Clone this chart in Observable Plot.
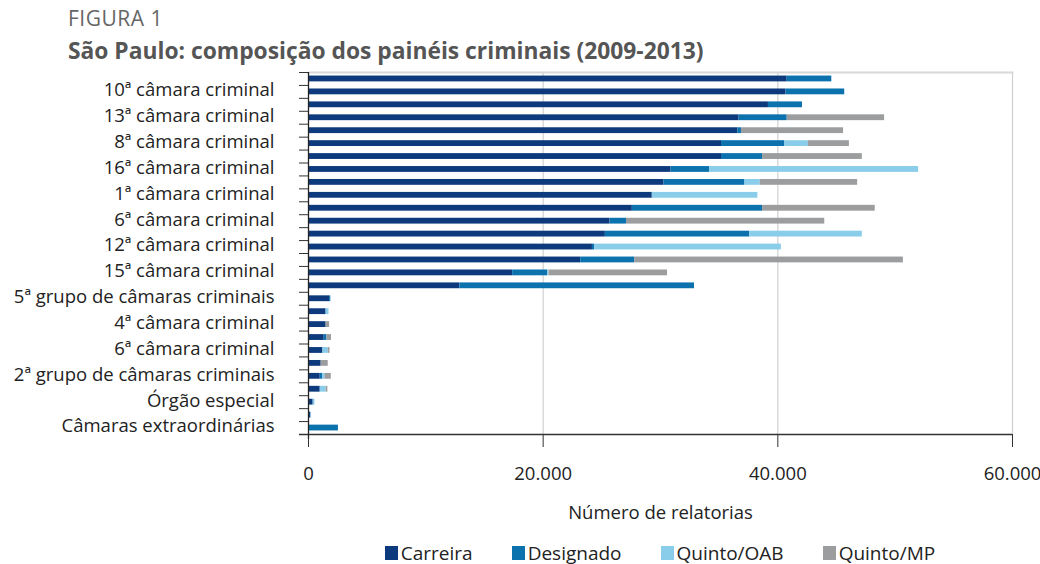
<!DOCTYPE html>
<html>
<head>
<meta charset="utf-8">
<script src="https://cdn.jsdelivr.net/npm/d3@7"></script>
<script src="https://cdn.jsdelivr.net/npm/@observablehq/plot@0.6"></script>
<style>
  html, body { margin: 0; padding: 0; background: #fff; }
  body { width: 1040px; height: 564px; position: relative; overflow: hidden; font-family: "Open Sans", "Noto Sans", sans-serif; }
  #fig { position: absolute; left: 68px; top: 4px; font-size: 21px; color: #666; letter-spacing: 0.5px; }
  #title { position: absolute; left: 68px; top: 35px; font-size: 22.8px; font-weight: 700; color: #555; white-space: nowrap; }
  #chart { position: absolute; left: 0; top: 64px; }
  #legend { position: absolute; left: 300px; width: 720px; top: 540px; display: flex; justify-content: center; gap: 39px; font-size: 19px; color: #222; }
  #legend span.item { display: flex; align-items: center; gap: 3px; }
  #legend span.sw { display: inline-block; width: 13px; height: 14px; }
</style>
</head>
<body>
<div id="fig">FIGURA 1</div>
<div id="title">São Paulo: composição dos painéis criminais (2009-2013)</div>
<div id="chart"></div>
<div id="legend"></div>
<script>
const categories = [
  "2ª câmara criminal", "10ª câmara criminal", "3ª câmara criminal", "13ª câmara criminal",
  "4ª câmara criminal", "8ª câmara criminal", "5ª câmara criminal", "16ª câmara criminal",
  "7ª câmara criminal", "1ª câmara criminal", "9ª câmara criminal", "6ª câmara criminal",
  "11ª câmara criminal", "12ª câmara criminal", "14ª câmara criminal", "15ª câmara criminal",
  "Câmara especial", "5ª grupo de câmaras criminais", "1ª grupo de câmaras criminais", "4ª câmara criminal",
  "3ª grupo de câmaras criminais", "6ª câmara criminal", "4ª grupo de câmaras criminais", "2ª grupo de câmaras criminais",
  "6ª grupo de câmaras criminais", "Órgão especial", "Câmara especial de presidentes", "Câmaras extraordinárias"
];
const series = ["Carreira", "Designado", "Quinto/OAB", "Quinto/MP"];
const colors = ["#0d3a7c", "#0b72ae", "#89cdea", "#9b9d9e"];
const carreira  = [40800, 40700, 39200, 36700, 36600, 35200, 35200, 30900, 30300, 29300, 27600, 25700, 25300, 24200, 23200, 17400, 12900, 1800, 1500, 1500, 1340, 1230, 1080, 1000, 1000, 400, 200, 50];
const designado = [3800, 5000, 2900, 4100, 300, 5400, 3500, 3300, 6900, 0, 11100, 1400, 12300, 200, 4600, 3000, 20000, 100, 0, 0, 230, 0, 0, 200, 0, 0, 0, 2500];
const quintoOAB = [0, 0, 0, 0, 0, 2000, 0, 17800, 1300, 9000, 0, 0, 9600, 15900, 0, 100, 0, 0, 250, 0, 0, 450, 0, 200, 510, 150, 50, 0];
const quintoMP  = [0, 0, 0, 8300, 8700, 3500, 8500, 0, 8300, 0, 9600, 16900, 0, 0, 22900, 10100, 0, 0, 0, 300, 390, 150, 600, 540, 140, 0, 0, 0];
const xTicks = [0, 20000, 40000, 60000];

const cols = [carreira, designado, quintoOAB, quintoMP];
const rows = [];
categories.forEach((c, i) => {
  series.forEach((s, k) => rows.push({i, categoria: c, serie: s, valor: cols[k][i]}));
});
const idx = d3.range(categories.length);

const width = 1040, height = 461;
const marginTop = 8, marginBottom = 91, marginLeft = 308, marginRight = 28;
const innerW = width - marginLeft - marginRight;
const innerH = height - marginTop - marginBottom;
const step = innerH / categories.length;
const fmt = d => d === 0 ? "0" : d3.format(",")(d).replace(/,/g, ".");

const plot = Plot.plot({
  width, height, marginTop, marginBottom, marginLeft, marginRight,
  style: {fontFamily: "'Open Sans', 'Noto Sans', sans-serif", fontSize: "18.5px", color: "#222", background: "transparent"},
  x: {domain: [0, 60000]},
  y: {domain: idx, paddingInner: 0.55, paddingOuter: 0.275, round: false},
  color: {domain: series, range: colors},
  marks: [
    Plot.ruleX(xTicks.slice(1), {stroke: "#d0d0d0", strokeWidth: 1.2}),
    Plot.frame({anchor: "top", stroke: "#d8d8d8", strokeWidth: 2}),
    Plot.barX(rows, Plot.stackX({y: "i", x: "valor", fill: "serie", order: series})),
    Plot.axisX({ticks: xTicks, tickFormat: fmt, tickSize: 13, tickPadding: 19, stroke: "#333", fontSize: 18.5,
      label: "Número de relatorias", labelAnchor: "center", labelArrow: "none", labelOffset: 84, labelDx: -4}),
    Plot.axisY({ticks: idx.filter(i => i % 2 === 1), tickFormat: i => categories[i], tickSize: 0, tickPadding: 34, dy: -1.5, fontSize: 18.5, label: null}),
    Plot.ruleY(idx, {y: d => d, dy: -step / 2, insetLeft: -9, insetRight: innerW, stroke: "#333"}),
    Plot.ruleY([idx[idx.length - 1]], {y: d => d, dy: step / 2, insetLeft: -9, stroke: "#333", strokeWidth: 1.3}),
    Plot.ruleX([0], {stroke: "#222", strokeWidth: 1.3, insetBottom: -5})
  ]
});
document.getElementById("chart").appendChild(plot);

const legend = document.getElementById("legend");
series.forEach((s, k) => {
  const it = document.createElement("span");
  it.className = "item";
  it.innerHTML = `<span class="sw" style="background:${colors[k]}"></span><span>${s}</span>`;
  legend.appendChild(it);
});
</script>
</body>
</html>
